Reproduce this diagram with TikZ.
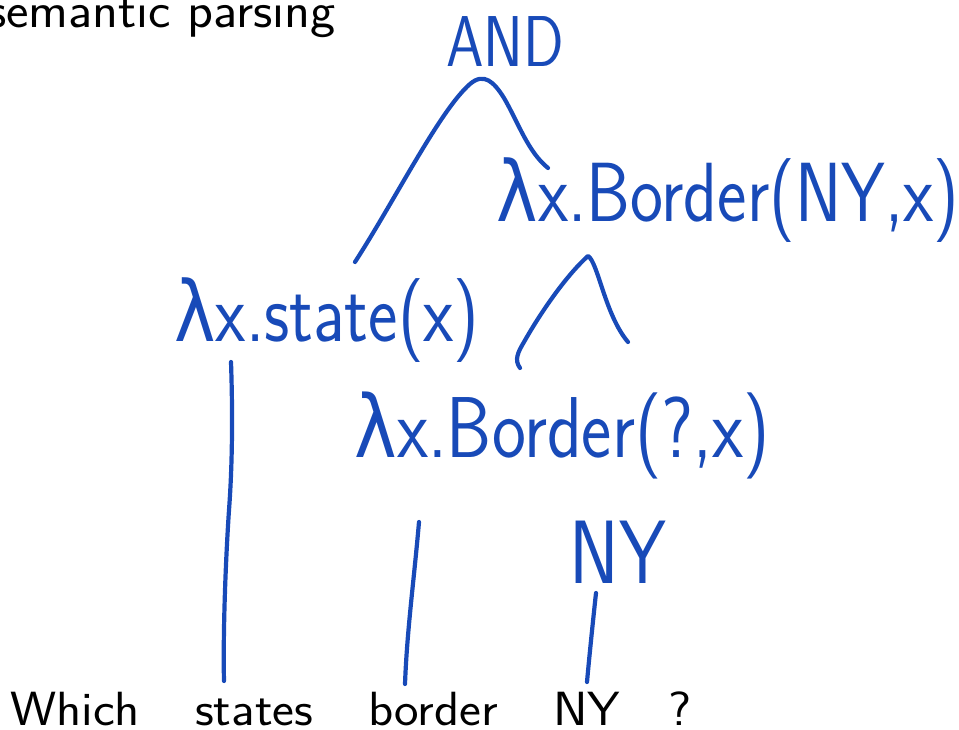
\documentclass[tikz,border=0pt]{standalone}
\usepackage{fontspec}
\usepackage{tikz}
\newfontfamily\lamfont{DejaVu Sans}
\definecolor{ink}{RGB}{24,74,184}
\newcommand{\lam}{{\lamfont λ}}
% horizontally stretched sans text
\newcommand{\wide}[2]{\scalebox{#1}[1]{#2}}
% tall handwritten-style text
\newcommand{\tall}[2]{\scalebox{1}[#1]{#2}}
\tikzset{
  word/.style={anchor=base west, inner sep=0pt, font=\sffamily\fontsize{48}{58}\selectfont},
  title/.style={anchor=base east, inner sep=0pt, font=\sffamily\fontsize{50}{60}\selectfont},
  hand/.style={text=ink, inner sep=0pt, font=\sffamily\fontsize{#1}{#1}\selectfont},
  stroke/.style={draw=ink, line width=4.2pt, line cap=round, line join=round}
}
\begin{document}
\begin{tikzpicture}[x=1pt, y=-1pt]
  \useasboundingbox (0,0) rectangle (959,730);

  % heading
  \node[title] (head) at (336,28) {\wide{1.07}{semantic parsing}};

  % sentence
  \node[word] (w1) at (10,725)  {\wide{1.085}{Which}};
  \node[word] (w2) at (195,725) {\wide{1.085}{states}};
  \node[word] (w3) at (368,725) {\wide{1.085}{border}};
  \node[word] (w4) at (553,725) {\wide{1.085}{NY}};
  \node[word] (w5) at (668,725) {\wide{1.085}{?}};

  % handwritten logical forms
  \node[hand=60] (and)   at (505,42)  {\tall{1.2}{AND}};
  \node[hand=70] (bnyx)  at (728,200) {\tall{1.2}{\lam x.Border(NY,x)}};
  \node[hand=70] (state) at (327,320) {\tall{1.2}{\lam x.state(x)}};
  \node[hand=72] (bqx)   at (562,435) {\tall{1.2}{\lam x.Border(?,x)}};
  \node[hand=75] (ny)    at (618,552) {\tall{1.2}{NY}};

  % stroke end points
  \coordinate (andL) at (355,262);
  \coordinate (andR) at (548,168);
  \coordinate (bL)   at (520,368);
  \coordinate (bR)   at (628,342);
  \coordinate (sT)   at (231,362);
  \coordinate (sB)   at (224,681);
  \coordinate (dT)   at (419,522);
  \coordinate (dB)   at (405,684);
  \coordinate (nT)   at (596,593);
  \coordinate (nB)   at (587,682);

  % AND combines the two predicates
  \draw[stroke] (andL) .. controls (395,200) and (440,110) .. (470,84)
                       .. controls (484,72) and (494,82) .. (504,98)
                       .. controls (518,122) and (528,152) .. (andR);

  % Border(NY,x) from Border(?,x) and NY
  \draw[stroke] (bL) .. controls (514,360) and (518,352) .. (524,342)
                     .. controls (545,305) and (570,272) .. (588,256)
                     .. controls (598,262) and (605,315) .. (bR);

  % lexical links
  \draw[stroke] (sT) .. controls (233,420) and (232,470) .. (229,510)
                     .. controls (225,570) and (223,640) .. (sB);
  \draw[stroke] (dT) .. controls (414,580) and (407,630) .. (dB);
  \draw[stroke] (nT) .. controls (592,630) and (589,660) .. (nB);
\end{tikzpicture}
\end{document}
